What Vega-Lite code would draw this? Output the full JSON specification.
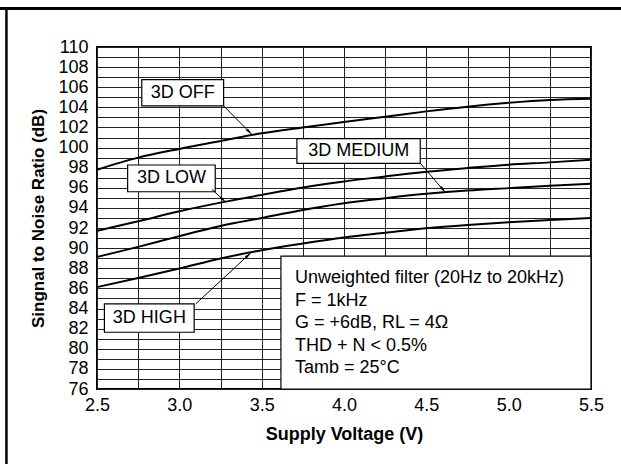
{
  "$schema": "https://vega.github.io/schema/vega-lite/v6.json",
  "width": 494,
  "height": 342,
  "autosize": {"type": "none"},
  "padding": {"left": 97, "top": 47, "right": 30, "bottom": 75},
  "background": "white",
  "config": {
    "font": "Liberation Sans",
    "view": {"stroke": "black", "strokeWidth": 2},
    "axis": {"labelColor": "black", "titleColor": "black", "gridColor": "#222", "gridWidth": 1, "gridOpacity": 1, "ticks": false, "domain": false, "labelOverlap": false, "labelFlush": false, "labelBound": false},
    "axisY": {"labelOverlap": false, "tickCount": 40},
    "axisX": {"labelOverlap": false, "tickCount": 20}
  },
  "datasets": {
    "curves": [
      {"series": "3D OFF", "v": 2.5, "snr": 97.8}, {"series": "3D OFF", "v": 2.75, "snr": 99.0}, {"series": "3D OFF", "v": 3.0, "snr": 99.87}, {"series": "3D OFF", "v": 3.25, "snr": 100.65}, {"series": "3D OFF", "v": 3.5, "snr": 101.42}, {"series": "3D OFF", "v": 3.75, "snr": 102.0}, {"series": "3D OFF", "v": 4.0, "snr": 102.55}, {"series": "3D OFF", "v": 4.25, "snr": 103.07}, {"series": "3D OFF", "v": 4.5, "snr": 103.6}, {"series": "3D OFF", "v": 4.75, "snr": 104.07}, {"series": "3D OFF", "v": 5.0, "snr": 104.45}, {"series": "3D OFF", "v": 5.25, "snr": 104.73}, {"series": "3D OFF", "v": 5.5, "snr": 104.85},
      {"series": "3D LOW", "v": 2.5, "snr": 91.73}, {"series": "3D LOW", "v": 2.75, "snr": 92.67}, {"series": "3D LOW", "v": 3.0, "snr": 93.67}, {"series": "3D LOW", "v": 3.25, "snr": 94.53}, {"series": "3D LOW", "v": 3.5, "snr": 95.3}, {"series": "3D LOW", "v": 3.75, "snr": 96.03}, {"series": "3D LOW", "v": 4.0, "snr": 96.63}, {"series": "3D LOW", "v": 4.25, "snr": 97.13}, {"series": "3D LOW", "v": 4.5, "snr": 97.6}, {"series": "3D LOW", "v": 4.75, "snr": 97.97}, {"series": "3D LOW", "v": 5.0, "snr": 98.3}, {"series": "3D LOW", "v": 5.25, "snr": 98.53}, {"series": "3D LOW", "v": 5.5, "snr": 98.8},
      {"series": "3D MEDIUM", "v": 2.5, "snr": 89.13}, {"series": "3D MEDIUM", "v": 2.75, "snr": 90.13}, {"series": "3D MEDIUM", "v": 3.0, "snr": 91.2}, {"series": "3D MEDIUM", "v": 3.25, "snr": 92.2}, {"series": "3D MEDIUM", "v": 3.5, "snr": 93.0}, {"series": "3D MEDIUM", "v": 3.75, "snr": 93.8}, {"series": "3D MEDIUM", "v": 4.0, "snr": 94.47}, {"series": "3D MEDIUM", "v": 4.25, "snr": 94.97}, {"series": "3D MEDIUM", "v": 4.5, "snr": 95.4}, {"series": "3D MEDIUM", "v": 4.75, "snr": 95.73}, {"series": "3D MEDIUM", "v": 5.0, "snr": 95.97}, {"series": "3D MEDIUM", "v": 5.25, "snr": 96.2}, {"series": "3D MEDIUM", "v": 5.5, "snr": 96.4},
      {"series": "3D HIGH", "v": 2.5, "snr": 86.13}, {"series": "3D HIGH", "v": 2.75, "snr": 87.03}, {"series": "3D HIGH", "v": 3.0, "snr": 87.97}, {"series": "3D HIGH", "v": 3.25, "snr": 88.97}, {"series": "3D HIGH", "v": 3.5, "snr": 89.8}, {"series": "3D HIGH", "v": 3.75, "snr": 90.47}, {"series": "3D HIGH", "v": 4.0, "snr": 91.07}, {"series": "3D HIGH", "v": 4.25, "snr": 91.53}, {"series": "3D HIGH", "v": 4.5, "snr": 91.97}, {"series": "3D HIGH", "v": 4.75, "snr": 92.3}, {"series": "3D HIGH", "v": 5.0, "snr": 92.57}, {"series": "3D HIGH", "v": 5.25, "snr": 92.8}, {"series": "3D HIGH", "v": 5.5, "snr": 93.0}
    ],
    "labels": [
      {"label": "3D OFF", "x1": 2.772, "x2": 3.269, "y1": 104.15, "y2": 106.75, "cx": 3.02, "cy": 105.45},
      {"label": "3D LOW", "x1": 2.686, "x2": 3.218, "y1": 95.61, "y2": 98.27, "cx": 2.952, "cy": 96.94},
      {"label": "3D MEDIUM", "x1": 3.714, "x2": 4.463, "y1": 98.43, "y2": 100.9, "cx": 4.089, "cy": 99.66},
      {"label": "3D HIGH", "x1": 2.545, "x2": 3.09, "y1": 81.64, "y2": 84.47, "cx": 2.818, "cy": 83.05}
    ],
    "arrows": [
      {"label": "3D OFF", "x1": 3.269, "y1": 104.15, "x2": 3.44, "y2": 101.3},
      {"label": "3D LOW", "x1": 3.198, "y1": 95.85, "x2": 3.28, "y2": 94.6},
      {"label": "3D MEDIUM", "x1": 4.463, "y1": 98.45, "x2": 4.615, "y2": 95.55},
      {"label": "3D HIGH", "x1": 3.1, "y1": 84.47, "x2": 3.435, "y2": 89.55}
    ],
    "notes": [
      {"x1": 3.617, "x2": 5.5, "y1": 76.0, "y2": 89.2, "tx": 3.702, "ty": 87.0, "text": "Unweighted filter (20Hz to 20kHz)\nF = 1kHz\nG = +6dB, RL = 4Ω\nTHD + N < 0.5%\nTamb = 25°C"}
    ],
    "frame": [{"x1": 1.8, "x2": 5.8, "xl": 1.95, "yt": 113.83, "yb": 66}]
  },
  "layer": [
    {
      "data": {"name": "curves"},
      "mark": {"type": "line", "color": "black", "strokeWidth": 2, "interpolate": "monotone"},
      "encoding": {
        "x": {"field": "v", "type": "quantitative",
          "scale": {"domain": [2.5, 5.5], "nice": false, "zero": false},
          "axis": {"title": "Supply Voltage (V)", "values": [2.5, 2.75, 3.0, 3.25, 3.5, 3.75, 4.0, 4.25, 4.5, 4.75, 5.0, 5.25, 5.5],
            "labelExpr": "(datum.value * 2) % 1 == 0 ? format(datum.value, '.1f') : ''", "tickCount": 20,
            "labelFontSize": 18, "labelPadding": 7, "titleFontSize": 18, "titleFontWeight": "bold", "titlePadding": 11}},
        "y": {"field": "snr", "type": "quantitative",
          "scale": {"domain": [76, 110], "nice": false, "zero": false},
          "axis": {"title": "Singnal to Noise Ratio (dB)", "values": [76,77,78,79,80,81,82,83,84,85,86,87,88,89,90,91,92,93,94,95,96,97,98,99,100,101,102,103,104,105,106,107,108,109,110],
            "labelExpr": "datum.value % 2 == 0 ? datum.label : ''", "labelOverlap": false, "tickCount": 40,
            "labelFontSize": 18, "labelPadding": 9, "titleFontSize": 17, "titleFontWeight": "bold", "titlePadding": 10}},
        "detail": {"field": "series", "type": "nominal"}
      }
    },
    {
      "data": {"name": "labels"},
      "mark": {"type": "rect", "fill": "white", "stroke": "black", "strokeWidth": 1.2},
      "encoding": {
        "x": {"field": "x1", "type": "quantitative"}, "x2": {"field": "x2"},
        "y": {"field": "y1", "type": "quantitative"}, "y2": {"field": "y2"}
      }
    },
    {
      "data": {"name": "labels"},
      "mark": {"type": "text", "fontSize": 18, "color": "black", "align": "center", "baseline": "middle"},
      "encoding": {
        "x": {"field": "cx", "type": "quantitative"},
        "y": {"field": "cy", "type": "quantitative"},
        "text": {"field": "label"}
      }
    },
    {
      "data": {"name": "notes"},
      "mark": {"type": "rect", "fill": "white", "stroke": "black", "strokeWidth": 1.2},
      "encoding": {
        "x": {"field": "x1", "type": "quantitative"}, "x2": {"field": "x2"},
        "y": {"field": "y1", "type": "quantitative"}, "y2": {"field": "y2"}
      }
    },
    {
      "data": {"name": "notes"},
      "mark": {"type": "text", "fontSize": 18, "color": "black", "align": "left", "baseline": "middle", "lineBreak": "\n", "lineHeight": 22.5},
      "encoding": {
        "x": {"field": "tx", "type": "quantitative"},
        "y": {"field": "ty", "type": "quantitative"},
        "text": {"field": "text"}
      }
    },
    {
      "data": {"name": "arrows"},
      "mark": {"type": "rule", "color": "black", "strokeWidth": 1},
      "encoding": {
        "x": {"field": "x1", "type": "quantitative"}, "x2": {"field": "x2"},
        "y": {"field": "y1", "type": "quantitative"}, "y2": {"field": "y2"}
      }
    },
    {
      "data": {"name": "arrows"},
      "transform": [{"filter": "datum.label == '3D OFF'"}],
      "mark": {"type": "point", "filled": true, "color": "black", "opacity": 1, "size": 40, "shape": "M0,0L0.45,2.2L-0.45,2.2Z", "angle": 135.7},
      "encoding": {"x": {"field": "x2", "type": "quantitative"}, "y": {"field": "y2", "type": "quantitative"}}
    },
    {
      "data": {"name": "arrows"},
      "transform": [{"filter": "datum.label == '3D LOW'"}],
      "mark": {"type": "point", "filled": true, "color": "black", "opacity": 1, "size": 40, "shape": "M0,0L0.45,2.2L-0.45,2.2Z", "angle": 133},
      "encoding": {"x": {"field": "x2", "type": "quantitative"}, "y": {"field": "y2", "type": "quantitative"}}
    },
    {
      "data": {"name": "arrows"},
      "transform": [{"filter": "datum.label == '3D MEDIUM'"}],
      "mark": {"type": "point", "filled": true, "color": "black", "opacity": 1, "size": 40, "shape": "M0,0L0.45,2.2L-0.45,2.2Z", "angle": 139.9},
      "encoding": {"x": {"field": "x2", "type": "quantitative"}, "y": {"field": "y2", "type": "quantitative"}}
    },
    {
      "data": {"name": "arrows"},
      "transform": [{"filter": "datum.label == '3D HIGH'"}],
      "mark": {"type": "point", "filled": true, "color": "black", "opacity": 1, "size": 40, "shape": "M0,0L0.45,2.2L-0.45,2.2Z", "angle": 47.4},
      "encoding": {"x": {"field": "x2", "type": "quantitative"}, "y": {"field": "y2", "type": "quantitative"}}
    },
    {
      "data": {"name": "frame"},
      "mark": {"type": "rule", "color": "black", "strokeWidth": 3, "clip": false},
      "encoding": {
        "x": {"field": "x1", "type": "quantitative"}, "x2": {"field": "x2"},
        "y": {"field": "yt", "type": "quantitative"}
      }
    },
    {
      "data": {"name": "frame"},
      "mark": {"type": "rule", "color": "black", "strokeWidth": 2.5, "clip": false},
      "encoding": {
        "x": {"field": "xl", "type": "quantitative"},
        "y": {"field": "yt", "type": "quantitative"}, "y2": {"field": "yb"}
      }
    }
  ]
}
